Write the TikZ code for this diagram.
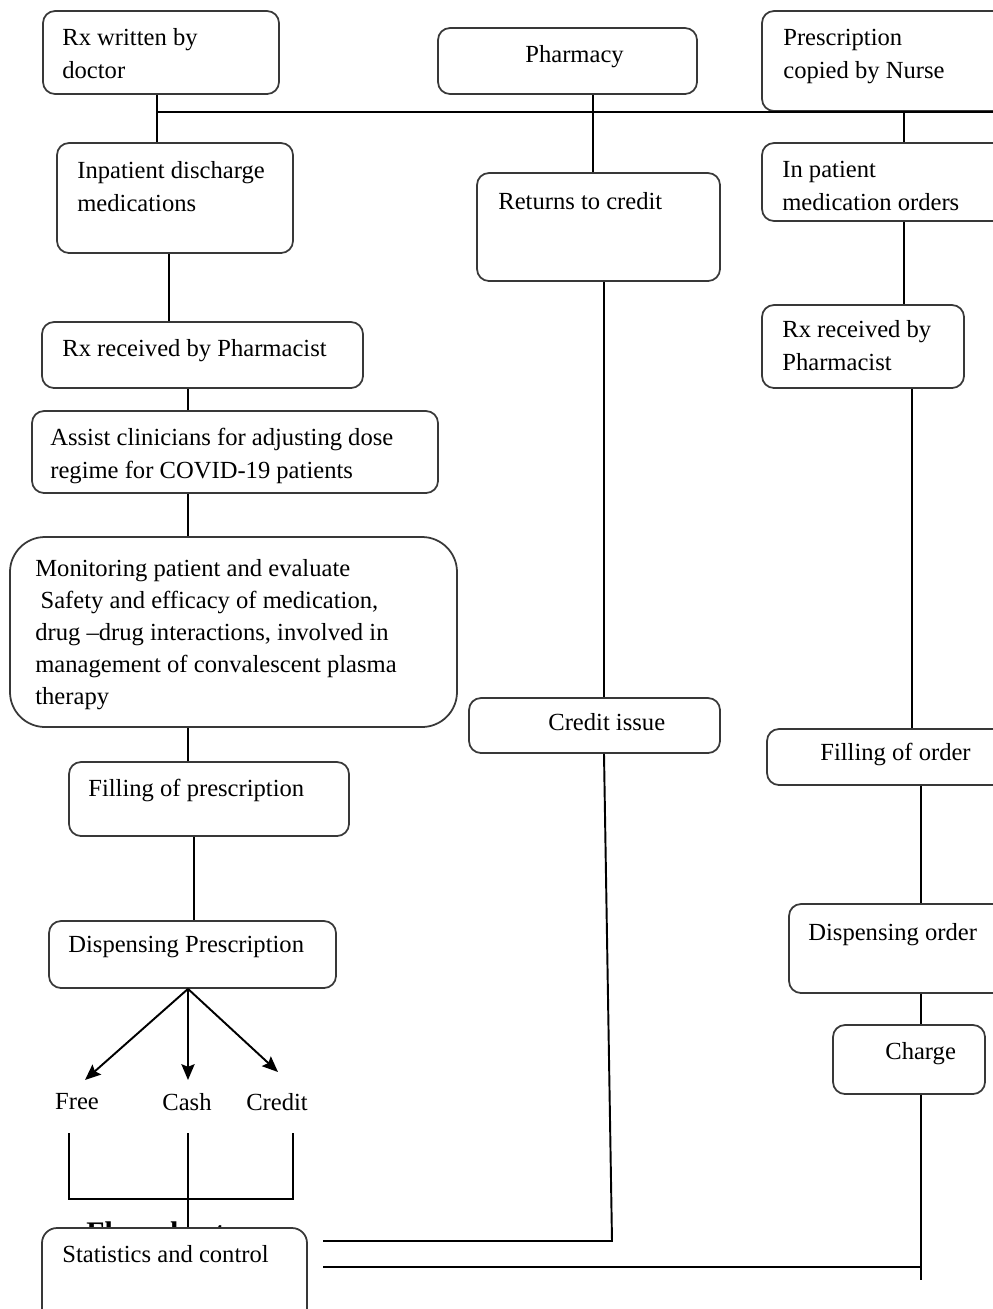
\documentclass[tikz,border=0pt]{standalone}
\usepackage{fontspec}
\setmainfont{Liberation Serif}
\usetikzlibrary{fit,arrows.meta,calc}
\begin{document}
\begin{tikzpicture}[x=0.02cm,y=-0.02cm,
  box/.style={draw=black!78, line width=1pt, rounded corners=0.24cm, inner sep=0pt, fill=white},
  txt/.style={anchor=north west, inner sep=0pt, align=left, font=\fontsize{14}{18.7}\selectfont},
  conn/.style={line width=1.1pt, black},
  arr/.style={conn, -{Stealth[length=9pt,width=7.5pt,inset=1.5pt]}}]
\useasboundingbox (0,0) rectangle (993,1309);
\clip (0,0) rectangle (993,1309);

% hidden title behind statistics box
\node[anchor=north west, inner sep=0pt, font=\bfseries\fontsize{17}{20}\selectfont] (fc) at (86,1221) {Flow chart};

% boxes
\node[box, fit={(43,11)(279,94)}] (doc) {};
\node[box, fit={(438,28)(697,94)}] (pharm) {};
\node[box, fit={(762,11)(1010,111)}] (nurse) {};
\node[box, fit={(57,143)(293,253)}] (inpat) {};
\node[box, fit={(477,173)(720,281)}] (returns) {};
\node[box, fit={(762,143)(1010,221)}] (inord) {};
\node[box, fit={(42,322)(363,388)}] (rxl) {};
\node[box, fit={(762,305)(964,388)}] (rxr) {};
\node[box, fit={(32,411)(438,493)}] (assist) {};
\node[box, rounded corners=0.7cm, fit={(10,537)(457,727)}] (monitor) {};
\node[box, fit={(469,698)(720,753)}] (ci) {};
\node[box, fit={(767,729)(1010,785)}] (fillo) {};
\node[box, fit={(69,762)(349,836)}] (fillp) {};
\node[box, fit={(49,921)(336,988)}] (dispp) {};
\node[box, fit={(789,904)(1010,993)}] (dispo) {};
\node[box, fit={(833,1025)(985,1094)}] (charge) {};

% texts
\node[txt] (tdoc) at (62,22) {\strut Rx written by\\doctor};
\node[txt] (tpharm) at (525,39) {\strut Pharmacy};
\node[txt] (tnurse) at (783,22) {\strut Prescription\\copied by Nurse};
\node[txt] (tinpat) at (77,155) {\strut Inpatient discharge\\medications};
\node[txt] (treturns) at (498,186) {\strut Returns to credit};
\node[txt] (tinord) at (782,154) {\strut In patient\\medication orders};
\node[txt] (trxl) at (62,333) {\strut Rx received by Pharmacist};
\node[txt] (trxr) at (782,314) {\strut Rx received by\\Pharmacist};
\node[txt] (tassist) at (50,422) {\strut Assist clinicians for adjusting dose\\regime for COVID-19 patients};
\node[txt, font=\fontsize{14}{18.2}\selectfont] (tmon) at (35,554) {\strut Monitoring patient and evaluate\\\hspace{3pt}Safety and efficacy of medication,\\drug --drug interactions, involved in\\management of convalescent plasma\\therapy};
\node[txt] (tci) at (548,707) {\strut Credit issue};
\node[txt] (tfillo) at (820,737) {\strut Filling of order};
\node[txt] (tfillp) at (88,773) {\strut Filling of prescription};
\node[txt] (tdispp) at (68,929) {\strut Dispensing Prescription};
\node[txt] (tdispo) at (808,917) {\strut Dispensing order};
\node[txt] (tcharge) at (885,1036) {\strut Charge};

% payment labels
\node[font=\fontsize{14}{18.7}\selectfont, inner sep=0pt] (free) at (77,1102) {Free};
\node[font=\fontsize{14}{18.7}\selectfont, inner sep=0pt] (cash) at (187,1102) {Cash};
\node[font=\fontsize{14}{18.7}\selectfont, inner sep=0pt] (credit) at (277,1102) {Credit};

% coordinates
\coordinate (jL) at (157,112);
\coordinate (hR) at (1010,112);
\coordinate (xP) at (593,0);
\coordinate (xN) at (904,0);
\coordinate (xA) at (169,0);
\coordinate (xB) at (188,0);
\coordinate (xC) at (194,0);
\coordinate (xM) at (604,0);
\coordinate (xR) at (912,0);
\coordinate (xS) at (921,0);
\coordinate (aF) at (85,1080);
\coordinate (aC) at (188,1080);
\coordinate (aR) at (278,1072);
\coordinate (bF) at (69,1133);
\coordinate (bC) at (188,1133);
\coordinate (bR) at (293,1133);
\coordinate (cF) at (69,1199);
\coordinate (cR) at (293,1199);
\coordinate (m1) at (612,1241);
\coordinate (m2) at (323,1241);
\coordinate (r1) at (921,1280);
\coordinate (r2) at (921,1267);
\coordinate (r3) at (323,1267);

% connectors
\draw[conn] (doc.south -| jL) -- (inpat.north -| jL);
\draw[conn] (jL) -- (hR);
\draw[conn] (pharm.south -| xP) -- (returns.north -| xP);
\draw[conn] (nurse.south -| xN) -- (inord.north -| xN);
\draw[conn] (inpat.south -| xA) -- (rxl.north -| xA);
\draw[conn] (rxl.south -| xB) -- (assist.north -| xB);
\draw[conn] (assist.south -| xB) -- (monitor.north -| xB);
\draw[conn] (monitor.south -| xB) -- (fillp.north -| xB);
\draw[conn] (fillp.south -| xC) -- (dispp.north -| xC);
\draw[conn] (returns.south -| xM) -- (ci.north -| xM);
\draw[conn] (ci.south -| xM) -- (m1) -- (m2);
\draw[conn] (inord.south -| xN) -- (rxr.north -| xN);
\draw[conn] (rxr.south -| xR) -- (fillo.north -| xR);
\draw[conn] (fillo.south -| xS) -- (dispo.north -| xS);
\draw[conn] (dispo.south -| xS) -- (charge.north -| xS);
\draw[conn] (charge.south -| xS) -- (r1);
\draw[conn] (r2) -- (r3);

\draw[arr] (dispp.south -| xB) -- (aF);
\draw[arr] (dispp.south -| xB) -- (aC);
\draw[arr] (dispp.south -| xB) -- (aR);

\draw[conn] (bF) -- (cF) -- (cR) -- (bR);
\draw[conn] (bC) -- (bC |- cF);

\node[box, rounded corners=0.3cm, fit={(42,1228)(307,1330)}] (stats) {};
\node[txt] (tstats) at (62,1239) {\strut Statistics and control};
\draw[conn] (bC |- cF) -- (stats.north -| bC);
\end{tikzpicture}
\end{document}
